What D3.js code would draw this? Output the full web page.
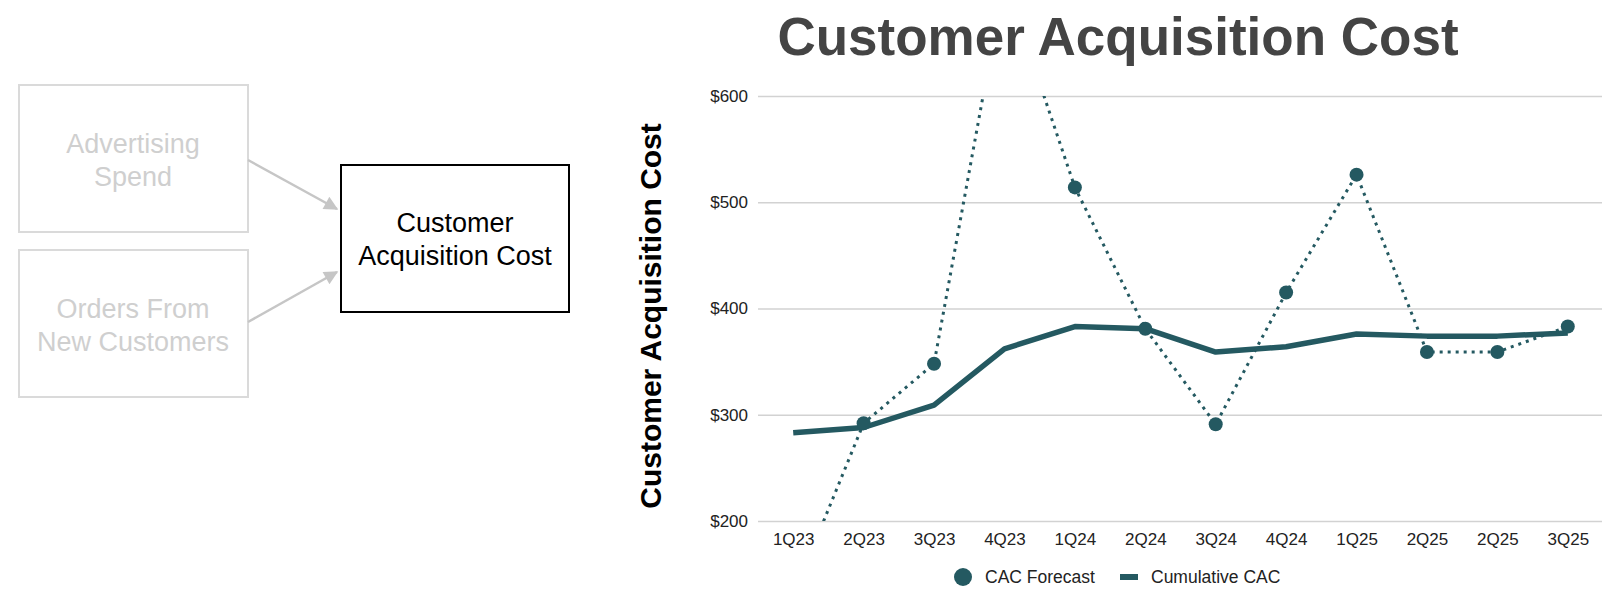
<!DOCTYPE html>
<html>
<head>
<meta charset="utf-8">
<script src="https://cdn.jsdelivr.net/npm/d3@7"></script>
<style>
  html, body { margin: 0; padding: 0; background: #fff; }
  svg { display: block; font-family: "Liberation Sans", Arial, sans-serif; }
</style>
</head>
<body>
<svg id="chart" width="1602" height="612"></svg>
<script>
// quarters on the x axis (2Q25 shows up twice in the source)
var quarters = ["1Q23", "2Q23", "3Q23", "4Q23", "1Q24", "2Q24", "3Q24", "4Q24", "1Q25", "2Q25", "2Q25", "3Q25"];
var cacForecast = [130, 292, 348, 710, 514, 381, 291, 415, 526, 359, 359, 383];
var cumulativeCac = [283, 288, 309, 362, 383, 381, 359, 364, 376, 374, 374, 377];
var yTicks = [200, 300, 400, 500, 600];
var seriesNames = ["CAC Forecast", "Cumulative CAC"];

var teal = "#245961",
    grid = "#d2d2d2";

var svg = d3.select("#chart");

// ---- left side: little driver diagram ----
var drivers = [
    {lines: ["Advertising", "Spend"], y: 85},
    {lines: ["Orders From", "New Customers"], y: 250}
];
var diag = svg.append("g");

diag.append("defs").append("marker")
    .attr("id", "arrow")
    .attr("viewBox", "0 0 10 10")
    .attr("refX", 9).attr("refY", 5)
    .attr("markerWidth", 16).attr("markerHeight", 14)
    .attr("markerUnits", "userSpaceOnUse")
    .attr("orient", "auto")
  .append("path")
    .attr("d", "M0,0L10,5L0,10Z")
    .attr("fill", "#c6c6c6");

drivers.forEach(function(d) {
    diag.append("rect")
        .attr("x", 19).attr("y", d.y)
        .attr("width", 229).attr("height", 147)
        .attr("fill", "none")
        .attr("stroke", "#dadada")
        .attr("stroke-width", 2);
    var t = diag.append("text")
        .attr("text-anchor", "middle")
        .attr("font-size", 27)
        .attr("fill", "#cfcfcf");
    d.lines.forEach(function(l, i) {
        t.append("tspan").attr("x", 133).attr("y", d.y + 68 + i * 33).text(l);
    });
});

diag.append("line")
    .attr("x1", 248).attr("y1", 160).attr("x2", 337).attr("y2", 209)
    .attr("stroke", "#c6c6c6").attr("stroke-width", 2.5)
    .attr("marker-end", "url(#arrow)");
diag.append("line")
    .attr("x1", 248).attr("y1", 322).attr("x2", 337).attr("y2", 272)
    .attr("stroke", "#c6c6c6").attr("stroke-width", 2.5)
    .attr("marker-end", "url(#arrow)");

diag.append("rect")
    .attr("x", 342).attr("y", 166)
    .attr("width", 228).attr("height", 147)
    .attr("fill", "#aaa").attr("opacity", 0.35);
diag.append("rect")
    .attr("x", 341).attr("y", 165)
    .attr("width", 228).attr("height", 147)
    .attr("fill", "#fff")
    .attr("stroke", "#000")
    .attr("stroke-width", 2);
var mt = diag.append("text")
    .attr("text-anchor", "middle")
    .attr("font-size", 27)
    .attr("fill", "#000");
["Customer", "Acquisition Cost"].forEach(function(l, i) {
    mt.append("tspan").attr("x", 455).attr("y", 232 + i * 33).text(l);
});

// ---- chart ----
var plotLeft = 758, plotRight = 1603, plotTop = 96, plotBottom = 521;

var x = d3.scalePoint()
    .domain(d3.range(quarters.length))
    .range([plotLeft, plotRight])
    .padding(0.5);

var y = d3.scaleLinear()
    .domain([200, 600])
    .range([plotBottom, plotTop]);

svg.append("text")
    .attr("x", 1118).attr("y", 55)
    .attr("text-anchor", "middle")
    .attr("font-size", 53)
    .attr("font-weight", "bold")
    .attr("fill", "#444")
    .text("Customer Acquisition Cost");

svg.append("text")
    .attr("transform", "translate(661,316) rotate(-90)")
    .attr("text-anchor", "middle")
    .attr("font-size", 30)
    .attr("font-weight", "bold")
    .attr("fill", "#000")
    .text("Customer Acquisition Cost");

// y axis, ticks stretched into gridlines
var yAxis = svg.append("g")
    .attr("transform", "translate(" + plotLeft + ",0)")
    .call(d3.axisLeft(y)
        .tickValues(yTicks)
        .tickSize(-(plotRight - plotLeft))
        .tickPadding(10)
        .tickFormat(function(d) { return "$" + d; }));
yAxis.select(".domain").remove();
yAxis.selectAll(".tick line").attr("stroke", grid).attr("stroke-width", 1.5);
yAxis.selectAll(".tick text")
    .attr("font-size", 17)
    .attr("font-family", "Liberation Sans, Arial, sans-serif")
    .attr("fill", "#222");

var xAxis = svg.append("g")
    .attr("transform", "translate(0," + plotBottom + ")")
    .call(d3.axisBottom(x)
        .tickSize(0)
        .tickPadding(12)
        .tickFormat(function(i) { return quarters[i]; }));
xAxis.select(".domain").remove();
xAxis.selectAll(".tick text")
    .attr("font-size", 17)
    .attr("font-family", "Liberation Sans, Arial, sans-serif")
    .attr("fill", "#222");

svg.append("clipPath").attr("id", "plot-clip")
  .append("rect")
    .attr("x", plotLeft).attr("y", plotTop)
    .attr("width", plotRight - plotLeft).attr("height", plotBottom - plotTop);

var plot = svg.append("g").attr("clip-path", "url(#plot-clip)");

var line = d3.line()
    .x(function(d, i) { return x(i); })
    .y(function(d) { return y(d); });

plot.append("path")
    .datum(cumulativeCac)
    .attr("d", line)
    .attr("fill", "none")
    .attr("stroke", teal)
    .attr("stroke-width", 5.5)
    .attr("stroke-linejoin", "round");

plot.append("path")
    .datum(cacForecast)
    .attr("d", line)
    .attr("fill", "none")
    .attr("stroke", teal)
    .attr("stroke-width", 3)
    .attr("stroke-dasharray", "3,5");

plot.selectAll(".dot")
    .data(cacForecast)
  .enter().append("circle")
    .attr("class", "dot")
    .attr("cx", function(d, i) { return x(i); })
    .attr("cy", function(d) { return y(d); })
    .attr("r", 7)
    .attr("fill", teal);

// legend
var legend = svg.append("g");
legend.append("circle")
    .attr("cx", 963).attr("cy", 577).attr("r", 9)
    .attr("fill", teal);
legend.append("text")
    .attr("x", 985).attr("y", 583)
    .attr("font-size", 17.5)
    .attr("fill", "#222")
    .text(seriesNames[0]);
legend.append("rect")
    .attr("x", 1120).attr("y", 574)
    .attr("width", 18).attr("height", 6)
    .attr("fill", teal);
legend.append("text")
    .attr("x", 1151).attr("y", 583)
    .attr("font-size", 17.5)
    .attr("fill", "#222")
    .text(seriesNames[1]);
</script>
</body>
</html>
